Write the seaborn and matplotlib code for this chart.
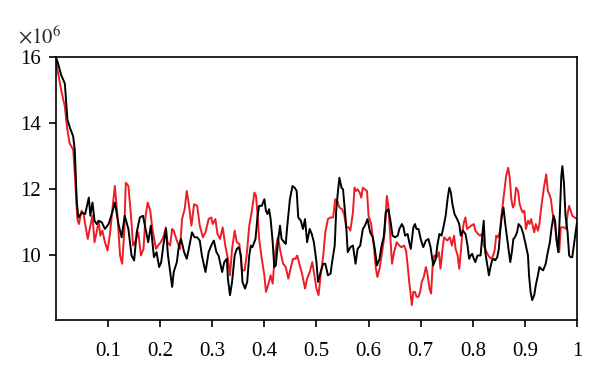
import matplotlib
matplotlib.use("Agg")
import matplotlib.pyplot as plt
import seaborn as sns

# values in units of 1e6
black_x = [0.000, 0.004, 0.010, 0.017, 0.022, 0.027, 0.033, 0.036, 0.040, 0.043,
           0.050, 0.056, 0.063, 0.066, 0.070, 0.074, 0.078, 0.082, 0.088, 0.094,
           0.101, 0.107, 0.113, 0.120, 0.126, 0.132, 0.139, 0.145, 0.150, 0.155,
           0.161, 0.167, 0.172, 0.177, 0.182, 0.188, 0.193, 0.198, 0.202, 0.206,
           0.211, 0.215, 0.220, 0.223, 0.226, 0.232, 0.236, 0.240, 0.246, 0.251,
           0.255, 0.261, 0.266, 0.271, 0.276, 0.280, 0.287, 0.293, 0.298, 0.303,
           0.308, 0.312, 0.319, 0.323, 0.328, 0.330, 0.334, 0.338, 0.343, 0.347,
           0.351, 0.355, 0.358, 0.363, 0.367, 0.371, 0.374, 0.377, 0.383, 0.387,
           0.390, 0.395, 0.400, 0.403, 0.406, 0.409, 0.412, 0.416, 0.419, 0.422,
           0.426, 0.430, 0.433, 0.438, 0.441, 0.444, 0.449, 0.454, 0.458, 0.462,
           0.465, 0.470, 0.474, 0.478, 0.482, 0.487, 0.491, 0.495, 0.500, 0.503,
           0.508, 0.513, 0.517, 0.522, 0.527, 0.530, 0.535, 0.538, 0.541, 0.544,
           0.548, 0.551, 0.554, 0.557, 0.560, 0.565, 0.570, 0.575, 0.579, 0.584,
           0.589, 0.593, 0.598, 0.603, 0.608, 0.612, 0.616, 0.621, 0.625, 0.629,
           0.633, 0.638, 0.642, 0.646, 0.651, 0.656, 0.659, 0.664, 0.667, 0.670,
           0.675, 0.678, 0.681, 0.686, 0.689, 0.692, 0.696, 0.700, 0.705, 0.710,
           0.715, 0.719, 0.724, 0.729, 0.732, 0.736, 0.740, 0.743, 0.748, 0.752,
           0.755, 0.758, 0.761, 0.765, 0.770, 0.774, 0.777, 0.781, 0.786, 0.790,
           0.793, 0.796, 0.799, 0.802, 0.805, 0.809, 0.812, 0.815, 0.818, 0.821,
           0.824, 0.828, 0.831, 0.834, 0.837, 0.840, 0.843, 0.847, 0.850, 0.853,
           0.856, 0.859, 0.862, 0.866, 0.869, 0.872, 0.875, 0.878, 0.881, 0.885,
           0.888, 0.893, 0.897, 0.902, 0.906, 0.908, 0.911, 0.914, 0.918, 0.921,
           0.925, 0.928, 0.931, 0.935, 0.940, 0.944, 0.948, 0.951, 0.955, 0.958,
           0.961, 0.964, 0.967, 0.970, 0.972, 0.975, 0.978, 0.982, 0.985, 0.988,
           0.991, 1.000]
black_y = [16.0, 15.8, 15.45, 15.2, 14.1, 13.85, 13.6, 13.2, 11.6, 11.15,
           11.3, 11.25, 11.75, 11.2, 11.6, 11.05, 10.95, 11.05, 11.0, 10.8,
           10.95, 11.25, 11.6, 10.95, 10.55, 11.2, 10.8, 10.0, 9.85, 10.7,
           11.15, 11.2, 10.8, 10.4, 10.9, 9.95, 10.1, 9.65, 9.8, 10.3,
           10.8, 10.0, 9.4, 9.05, 9.5, 9.8, 10.3, 10.5, 10.1, 9.9,
           10.2, 10.7, 10.55, 10.55, 10.45, 10.0, 9.5, 10.1, 10.3, 10.45,
           10.1, 10.0, 9.5, 9.8, 9.9, 9.3, 8.8, 9.2, 10.0, 10.2,
           10.25, 10.0, 9.2, 9.0, 9.2, 10.0, 10.3, 10.25, 10.5, 11.2,
           11.5, 11.5, 11.7, 11.35, 11.25, 11.4, 11.1, 10.4, 9.65, 9.7,
           10.4, 10.9, 10.5, 10.4, 10.35, 10.9, 11.7, 12.1, 12.05, 11.95,
           11.15, 11.05, 10.8, 11.1, 10.4, 10.8, 10.65, 10.4, 9.8, 9.2,
           9.5, 9.75, 9.75, 9.4, 9.45, 9.8, 10.3, 11.4, 11.9, 12.35,
           12.05, 12.0, 11.45, 10.9, 10.1, 10.25, 10.3, 9.75, 10.2, 10.3,
           10.8, 10.9, 11.1, 10.7, 10.55, 10.2, 9.7, 9.9, 10.3, 10.55,
           11.3, 11.4, 11.05, 10.6, 10.55, 10.6, 10.8, 10.95, 10.85, 10.6,
           10.65, 10.4, 10.2, 10.85, 10.95, 10.8, 10.8, 10.5, 10.25, 10.45,
           10.5, 10.25, 9.7, 9.9, 10.3, 10.65, 10.6, 10.8, 11.2, 11.75,
           12.05, 11.9, 11.55, 11.25, 11.1, 10.95, 10.6, 10.75, 10.65, 10.3,
           9.9, 10.0, 10.05, 9.9, 9.8, 10.0, 10.0, 10.0, 10.55, 11.05,
           10.1, 9.7, 9.4, 9.65, 9.85, 9.9, 9.85, 9.95, 10.2, 10.8,
           11.2, 11.45, 11.0, 10.5, 10.15, 9.8, 10.1, 10.5, 10.55, 10.7,
           10.95, 10.85, 10.65, 10.3, 10.0, 9.4, 8.9, 8.65, 8.8, 9.1,
           9.4, 9.65, 9.6, 9.55, 9.75, 10.1, 10.4, 10.8, 11.2, 11.05,
           10.45, 10.1, 11.2, 12.4, 12.7, 12.2, 11.2, 10.7, 10.0, 9.95,
           9.95, 11.0]

red_x = [0.000, 0.003, 0.010, 0.017, 0.021, 0.026, 0.033, 0.036, 0.041, 0.044,
         0.049, 0.053, 0.056, 0.061, 0.066, 0.070, 0.074, 0.078, 0.082, 0.085,
         0.089, 0.094, 0.099, 0.104, 0.108, 0.113, 0.118, 0.123, 0.127, 0.131,
         0.134, 0.139, 0.144, 0.148, 0.153, 0.158, 0.163, 0.168, 0.172, 0.176,
         0.181, 0.185, 0.188, 0.192, 0.196, 0.201, 0.206, 0.211, 0.214, 0.219,
         0.223, 0.226, 0.232, 0.238, 0.242, 0.247, 0.251, 0.255, 0.260, 0.265,
         0.271, 0.276, 0.282, 0.287, 0.293, 0.298, 0.301, 0.306, 0.310, 0.315,
         0.320, 0.325, 0.330, 0.334, 0.338, 0.343, 0.347, 0.352, 0.357, 0.362,
         0.366, 0.371, 0.376, 0.381, 0.384, 0.387, 0.390, 0.395, 0.400, 0.403,
         0.408, 0.412, 0.416, 0.419, 0.422, 0.426, 0.431, 0.436, 0.441, 0.446,
         0.451, 0.455, 0.460, 0.463, 0.468, 0.473, 0.478, 0.482, 0.487, 0.492,
         0.496, 0.500, 0.504, 0.508, 0.513, 0.517, 0.522, 0.527, 0.532, 0.536,
         0.540, 0.544, 0.549, 0.553, 0.557, 0.562, 0.565, 0.570, 0.573, 0.576,
         0.579, 0.583, 0.586, 0.589, 0.593, 0.597, 0.600, 0.605, 0.610, 0.614,
         0.617, 0.621, 0.624, 0.627, 0.631, 0.635, 0.638, 0.642, 0.645, 0.649,
         0.654, 0.659, 0.663, 0.668, 0.672, 0.675, 0.678, 0.681, 0.683, 0.686,
         0.689, 0.692, 0.696, 0.699, 0.702, 0.706, 0.710, 0.713, 0.717, 0.720,
         0.723, 0.726, 0.731, 0.735, 0.738, 0.742, 0.745, 0.748, 0.751, 0.756,
         0.760, 0.764, 0.767, 0.771, 0.774, 0.777, 0.780, 0.783, 0.786, 0.789,
         0.793, 0.797, 0.802, 0.805, 0.810, 0.814, 0.818, 0.821, 0.824, 0.828,
         0.832, 0.836, 0.839, 0.842, 0.845, 0.848, 0.852, 0.855, 0.858, 0.861,
         0.864, 0.868, 0.871, 0.874, 0.877, 0.880, 0.883, 0.887, 0.890, 0.893,
         0.896, 0.899, 0.902, 0.906, 0.909, 0.912, 0.915, 0.918, 0.921, 0.925,
         0.928, 0.931, 0.934, 0.937, 0.941, 0.944, 0.947, 0.950, 0.953, 0.956,
         0.960, 0.963, 0.966, 0.969, 0.972, 0.975, 0.979, 0.982, 0.985, 0.988,
         0.991, 1.000]
red_y = [15.9, 15.6, 15.0, 14.5, 13.9, 13.4, 13.2, 12.5, 11.1, 10.95,
         11.35, 11.25, 10.95, 10.5, 10.9, 11.2, 10.4, 10.7, 11.05, 10.6,
         10.75, 10.4, 10.15, 10.7, 11.35, 12.1, 11.2, 10.0, 9.75, 10.7,
         12.2, 12.1, 11.2, 10.3, 10.45, 10.7, 10.0, 10.2, 11.2, 11.6,
         11.35, 10.8, 10.55, 10.2, 10.3, 10.4, 10.55, 10.85, 10.4, 10.3,
         10.8, 10.75, 10.45, 10.2, 11.1, 11.4, 11.95, 11.55, 10.9, 11.55,
         11.5, 10.9, 10.55, 10.7, 11.1, 11.15, 10.95, 11.1, 10.65, 10.5,
         10.85, 10.3, 9.9, 9.4, 10.2, 10.75, 10.4, 10.35, 9.55, 9.55,
         10.0, 10.9, 11.35, 11.9, 11.8, 11.2, 10.5, 9.9, 9.4, 8.9,
         9.15, 9.4, 9.15, 9.8, 10.2, 10.55, 10.1, 9.75, 9.65, 9.3,
         9.65, 9.9, 9.9, 10.0, 9.7, 9.4, 9.0, 9.3, 9.5, 9.8,
         9.4, 9.0, 8.8, 9.4, 10.0, 10.7, 11.1, 11.15, 11.15, 11.7,
         11.65, 11.45, 11.4, 11.25, 10.85, 10.85, 10.75, 11.3, 12.05, 11.95,
         12.0, 11.9, 11.75, 12.05, 12.0, 11.95, 11.2, 10.95, 10.3, 9.6,
         9.35, 9.6, 9.9, 10.2, 10.7, 11.8, 11.5, 10.5, 9.75, 10.1,
         10.4, 10.3, 10.25, 10.3, 10.15, 9.7, 9.2, 8.8, 8.5, 8.9,
         8.9, 8.75, 8.75, 8.9, 9.2, 9.35, 9.65, 9.45, 9.0, 8.85,
         9.7, 10.0, 9.95, 10.1, 9.6, 10.2, 10.55, 10.5, 10.45, 10.55,
         10.3, 10.6, 10.2, 10.0, 9.6, 10.1, 10.7, 11.0, 11.15, 10.8,
         10.85, 10.9, 10.95, 10.75, 10.65, 10.6, 10.65, 10.3, 10.2, 10.05,
         9.95, 9.9, 10.0, 10.15, 10.6, 10.55, 10.7, 11.2, 11.6, 12.0,
         12.4, 12.65, 12.35, 11.7, 11.45, 11.55, 12.05, 11.95, 11.55, 11.4,
         11.3, 11.35, 10.8, 11.05, 10.95, 11.1, 10.9, 10.7, 10.95, 10.75,
         10.95, 11.4, 11.75, 12.1, 12.45, 11.95, 11.85, 11.7, 11.3, 11.1,
         10.6, 10.3, 10.1, 10.85, 10.85, 10.85, 10.8, 11.25, 11.5, 11.35,
         11.2, 11.1]

x_ticks = [0.1, 0.2, 0.3, 0.4, 0.5, 0.6, 0.7, 0.8, 0.9, 1.0]
x_tick_labels = ["0.1", "0.2", "0.3", "0.4", "0.5", "0.6", "0.7", "0.8", "0.9", "1"]
y_ticks = [10, 12, 14, 16]

sns.set_style("ticks")
plt.rcParams["font.family"] = ["Liberation Serif", "DejaVu Serif"]
plt.rcParams["mathtext.fontset"] = "stix"

fig = plt.figure(figsize=(6, 3.79), dpi=100)
ax = fig.add_axes([0.0933, 0.1557, 0.8683, 0.694])

sns.lineplot(x=red_x, y=red_y, color="#ee1c24", linewidth=1.4,
             estimator=None, sort=False, ax=ax)
sns.lineplot(x=black_x, y=black_y, color="black", linewidth=1.4,
             estimator=None, sort=False, ax=ax)

ax.set_xlim(0, 1)
ax.set_ylim(8.05, 16)
ax.set_xticks(x_ticks)
ax.set_xticklabels(x_tick_labels)
ax.set_yticks(y_ticks)

for side in ["top", "right", "left", "bottom"]:
    ax.spines[side].set_visible(True)
    ax.spines[side].set_linewidth(1.2)
    ax.spines[side].set_color("black")

ax.tick_params(axis="x", length=5, width=1.2, pad=11, labelsize=15, colors="black")
ax.tick_params(axis="y", length=5, width=1.2, pad=6, labelsize=15, colors="black")

fig.text(18 / 600, 1 - 43 / 379, r"$\times 10^{6}$", fontsize=15, va="baseline", ha="left")

fig.savefig("out.png", dpi=100, facecolor="white")
